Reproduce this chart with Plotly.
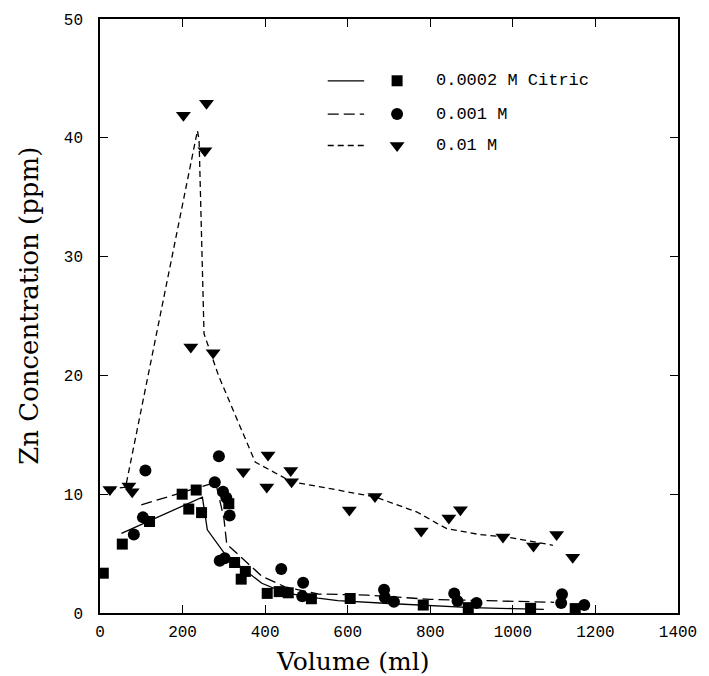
import plotly.graph_objects as go

# ---------------- data ----------------
# 0.0002 M Citric (squares)
sq_x = [8, 54, 120, 199, 215, 233, 246, 312, 326, 342, 352, 405, 434, 456, 512, 606, 783, 892, 1043, 1151]
sq_y = [3.35, 5.8, 7.7, 10.0, 8.75, 10.35, 8.45, 9.2, 4.25, 2.85, 3.5, 1.65, 1.8, 1.7, 1.2, 1.22, 0.67, 0.45, 0.39, 0.37]
# 0.001 M (circles)
ci_x = [82, 104, 110, 278, 288, 298, 306, 314, 290, 302, 439, 490, 492, 688, 690, 712, 858, 866, 912, 1117, 1119, 1173]
ci_y = [6.6, 8.05, 12.0, 11.0, 13.2, 10.2, 9.7, 8.2, 4.4, 4.6, 3.7, 1.4, 2.55, 1.95, 1.3, 0.95, 1.65, 1.0, 0.85, 0.85, 1.57, 0.67]
# 0.01 M (triangles)
tr_x = [24, 70, 78, 202, 220, 254, 258, 274, 347, 404, 407, 462, 464, 604, 666, 778, 845, 873, 976, 1050, 1106, 1145]
tr_y = [10.4, 10.7, 10.2, 41.9, 22.4, 38.9, 42.9, 21.9, 11.9, 10.6, 13.3, 12.0, 11.05, 8.67, 9.8, 6.9, 8.0, 8.7, 6.4, 5.64, 6.6, 4.7]

# fitted curves
l1_x = [52, 128, 248, 260, 304, 392, 448, 528, 576, 700, 800, 900, 1000, 1075]
l1_y = [6.7, 7.9, 9.75, 7.0, 4.9, 2.5, 1.7, 1.25, 1.05, 0.8, 0.6, 0.45, 0.37, 0.3]
l2_x = [100, 280, 300, 307, 392, 448, 528, 648, 800, 1000, 1100]
l2_y = [9.1, 11.0, 8.0, 5.8, 3.1, 2.2, 1.6, 1.5, 1.15, 0.95, 0.9]
l3_x = [24, 62, 236, 240, 252, 272, 288, 376, 424, 464, 576, 668, 712, 768, 816, 840, 920, 985, 1097]
l3_y = [10.4, 10.6, 40.6, 39.8, 23.5, 21.6, 19.9, 12.7, 11.8, 11.05, 10.35, 9.75, 9.2, 8.5, 7.55, 7.1, 6.6, 6.4, 5.7]

series_names = ["0.0002 M Citric", "0.001 M", "0.01 M"]
x_ticks = [0, 200, 400, 600, 800, 1000, 1200, 1400]
y_ticks = [0, 10, 20, 30, 40, 50]

# ---------------- styles ----------------
dashes = ["solid", "11px,5px", "6px,4px"]
symbols = ["square", "circle", "triangle-down"]
msizes = [11, 12, 13]
LW = 1.3
TICKFONT = dict(family="Liberation Mono", size=16, color="black")

fig = go.Figure()

curves = [(l1_x, l1_y), (l2_x, l2_y), (l3_x, l3_y)]
points = [(sq_x, sq_y), (ci_x, ci_y), (tr_x, tr_y)]

for i in range(3):
    cx, cy = curves[i]
    fig.add_trace(go.Scatter(x=cx, y=cy, mode="lines",
                             line=dict(color="black", width=LW, dash=dashes[i]),
                             showlegend=False, hoverinfo="skip"))
for i in range(3):
    px_, py_ = points[i]
    fig.add_trace(go.Scatter(x=px_, y=py_, mode="markers",
                             marker=dict(symbol=symbols[i], size=msizes[i], color="black",
                                         line=dict(width=0)),
                             name=series_names[i], showlegend=False))

# ---------------- manual legend (overlay axes 0..1) ----------------
leg_rows = [0.896, 0.840, 0.787]
leg_line = [0.394, 0.457]
leg_mark = 0.514
leg_text = 0.578
for i in range(3):
    fig.add_trace(go.Scatter(x=leg_line, y=[leg_rows[i]] * 2, mode="lines",
                             line=dict(color="black", width=LW, dash=dashes[i]),
                             xaxis="x2", yaxis="y2", showlegend=False, hoverinfo="skip"))
    fig.add_trace(go.Scatter(x=[leg_mark], y=[leg_rows[i]], mode="markers",
                             marker=dict(symbol=symbols[i], size=msizes[i], color="black"),
                             xaxis="x2", yaxis="y2", showlegend=False, hoverinfo="skip"))
    fig.add_annotation(x=leg_text, y=leg_rows[i], xref="paper", yref="paper",
                       text=series_names[i], showarrow=False, xanchor="left", yanchor="middle",
                       font=dict(family="Liberation Mono", size=17, color="black"))

# axis titles
fig.add_annotation(x=0.437, y=-0.082, xref="paper", yref="paper", text="Volume (ml)",
                   showarrow=False, xanchor="center", yanchor="middle",
                   font=dict(family="DejaVu Serif", size=25, color="black"))
fig.add_annotation(x=-0.123, y=0.517, xref="paper", yref="paper", text="Zn Concentration (ppm)",
                   showarrow=False, xanchor="center", yanchor="middle", textangle=-90,
                   font=dict(family="DejaVu Serif", size=26, color="black"))

axis_common = dict(showline=True, linecolor="black", linewidth=1.5, mirror="ticks",
                   ticks="inside", ticklen=8, tickwidth=1.3, tickcolor="black",
                   showgrid=False, zeroline=False, tickfont=TICKFONT)

fig.update_layout(
    width=709, height=676,
    margin=dict(l=100, r=25, t=19, b=63),
    paper_bgcolor="white", plot_bgcolor="white",
    xaxis=dict(range=[0, 1400], tickvals=x_ticks, ticktext=[str(v) for v in x_ticks],
               ticklabelstandoff=3, **axis_common),
    yaxis=dict(range=[0, 50], tickvals=y_ticks, ticktext=[str(v) for v in y_ticks],
               ticklabelstandoff=12, **axis_common),
    xaxis2=dict(range=[0, 1], overlaying="x", visible=False, fixedrange=True),
    yaxis2=dict(range=[0, 1], overlaying="y", visible=False, fixedrange=True),
    showlegend=False,
)

fig.write_html("out.html")
